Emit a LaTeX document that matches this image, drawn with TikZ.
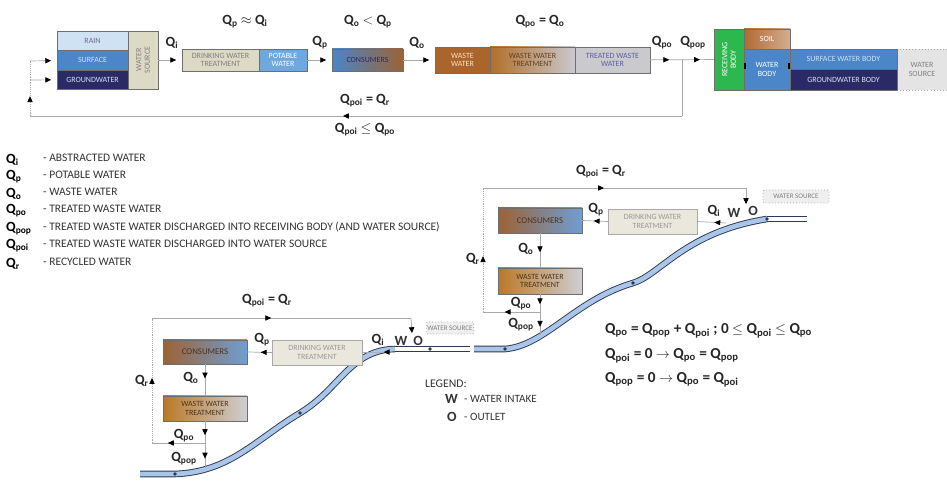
\documentclass[tikz,border=0pt]{standalone}
\usepackage{amsmath}
\usepackage{fontspec}
\setmainfont{Carlito}
\usepackage{tikz}
\usetikzlibrary{arrows.meta, positioning, decorations.markings, calc}

\definecolor{rainblue}{HTML}{CFE2F3}
\definecolor{surfblue}{HTML}{4A86C8}
\definecolor{navyblue}{HTML}{2B2A66}
\definecolor{sandgray}{HTML}{DCD9C4}
\definecolor{potblue}{HTML}{6FA8DC}
\definecolor{consbrown}{HTML}{9C6235}
\definecolor{wwbrown}{HTML}{A9652C}
\definecolor{wwtgold}{HTML}{E2A51C}
\definecolor{twwgray}{HTML}{C9C9CE}
\definecolor{recgreen}{HTML}{2DB84F}
\definecolor{soilbrown}{HTML}{B06A34}
\definecolor{srcgray}{HTML}{E4E4E4}
\definecolor{linegray}{HTML}{A8A8A8}
\definecolor{boxgray}{HTML}{6E6E6E}
\definecolor{rivblue}{HTML}{A9C6E8}
\definecolor{rivedge}{HTML}{2E3A55}

\newcommand{\Qs}[1]{Q$_{\text{#1}}$}

\begin{document}
\begin{tikzpicture}[
    x=0.03cm, y=-0.03cm,
    dims/.style 2 args={minimum width=#1*0.03cm, minimum height=#2*0.03cm},
    box/.style={rectangle, draw=boxgray, line width=0.6pt, inner sep=1pt,
                outer sep=0pt, align=center, font=\fontsize{6.8}{7.3}\selectfont},
    frame/.style={draw=boxgray, line width=0.8pt},
    line/.style={draw=linegray, line width=0.6pt},
    flow/.style={line, -{Triangle[length=5pt,width=4.5pt,color=black]}, shorten >=5pt},
    midarrow/.style={line, postaction={decorate}, decoration={markings,
                mark=at position #1 with {\arrow[black]{Triangle[length=5pt,width=4.5pt]}}}},
    twoarrows/.style 2 args={line, postaction={decorate}, decoration={markings,
                mark=at position #1 with {\arrow[black]{Triangle[length=5pt,width=4.5pt]}},
                mark=at position #2 with {\arrow[black]{Triangle[length=5pt,width=4.5pt]}}}},
    qlab/.style={font=\fontsize{12}{13}\selectfont\bfseries, inner sep=1pt, text=black!85},
    leglab/.style={font=\fontsize{12}{13}\selectfont\bfseries, inner sep=0pt, anchor=west},
    legtext/.style={font=\fontsize{9.8}{10}\selectfont, inner sep=0pt, anchor=west, text=black!80},
    eqn/.style={font=\fontsize{13}{14}\selectfont\bfseries, inner sep=0pt, anchor=west, text=black!85},
    srclab/.style={box, draw=boxgray!70, dotted, rounded corners=1pt, fill=srcgray!60,
                text=gray, font=\fontsize{6}{7}\selectfont},
    wo/.style={font=\fontsize{12}{13}\selectfont\bfseries, inner sep=0pt, text=black!80},
    river/.style={draw=rivedge, line width=0.8pt, double=rivblue, double distance=4pt},
    riverend/.style={river, double=white},
]
    \useasboundingbox (0,0) rectangle (947,486);

    % ---------- top scheme ----------
    \node[box, dims={71}{19}, fill=rainblue, text=navyblue!70] (rain) at (92.5,40.5) {RAIN};
    \node[box, dims={71}{20}, fill=surfblue, text=rainblue] (surface) at (92.5,60) {SURFACE};
    \node[box, dims={71}{19}, fill=navyblue, text=rainblue] (ground) at (92.5,79.5) {GROUNDWATER};
    \node[box, dims={58}{30}, fill=sandgray, rotate=90, text=gray] (source) at (143,60) {WATER\\SOURCE};
    \draw[frame] (57,31) rectangle (158,89);

    \node[box, dims={77}{22}, fill=sandgray, text=gray] (dwt) at (220.5,60) {DRINKING WATER\\TREATMENT};
    \node[box, dims={48}{22}, fill=potblue, text=white] (potable) at (283,60) {POTABLE\\WATER};
    \node[box, dims={71}{22}, left color=surfblue, right color=consbrown, text=navyblue] (consumers) at (367.5,60) {CONSUMERS};

    \node[box, dims={55}{26}, fill=wwbrown, text=orange!25] (ww) at (462.5,60) {WASTE\\WATER};
    \node[box, dims={85}{26}, left color=wwbrown!85!wwtgold, middle color=wwtgold, right color=twwgray,
          text=brown!50!black] (wwt) at (532.5,60) {WASTE WATER\\TREATMENT};
    \node[box, dims={75}{26}, fill=twwgray, text=blue!25!gray] (tww) at (612.5,60) {TREATED WASTE\\WATER};
    \draw[densely dashed, draw=boxgray] (ww.north east) -- (ww.south east);
    \draw[densely dashed, draw=boxgray] (tww.north west) -- (tww.south west);

    \node[box, dims={61}{30}, rotate=90, fill=recgreen, text=white] (receiving) at (729,59.5) {RECEIVING\\BODY};
    \node[box, dims={46}{20}, left color=soilbrown, right color=soilbrown!55!white, text=white] (soil) at (767,39) {SOIL};
    \node[box, dims={46}{41}, fill=surfblue, text=white] (wbody) at (767,69.5) {WATER\\BODY};
    \node[box, dims={107}{20}, fill=surfblue, text=rainblue] (swb) at (843.5,59) {SURFACE WATER BODY};
    \node[box, dims={107}{21}, fill=navyblue, text=rainblue] (gwb) at (843.5,79.5) {GROUNDWATER BODY};
    \node[box, dims={50}{41}, fill=srcgray, draw=boxgray!60, dotted, text=gray] (source2) at (922,69.5) {WATER\\SOURCE};
    \draw[frame] (714,29) -- (790,29) -- (790,49) -- (897,49) -- (897,90) -- (714,90) -- cycle;
    \fill[black] ($(wbody.west)+(0,-6)$) rectangle ++(2,6);
    \fill[black] ($(wbody.east)+(-2,-6)$) rectangle ++(2,6);

    \draw[flow] (source) -- (dwt);
    \draw[flow] (potable) -- (consumers);
    \draw[flow] (consumers) -- (ww);
    \draw[twoarrows={0.3}{0.78}] (tww) -- (receiving);

    \node[qlab] at (172,43) {\Qs{i}};
    \node[qlab] at (320,43) {\Qs{p}};
    \node[qlab] at (417,43) {\Qs{o}};
    \node[qlab] at (662,43) {\Qs{po}};
    \node[qlab] at (693,43) {\Qs{pop}};
    \node[qlab] (relpi) at (245,22) {\Qs{p} $\approx$ Q$_{\text{i}}$};
    \node[qlab] (relop) at (368,22) {\Qs{o} $<$ Q$_{\text{p}}$};
    \node[qlab] (relpo) at (540,22) {\Qs{po} = Q$_{\text{o}}$};

    % recycling loop
    \coordinate (split) at (682,60);
    \coordinate (rc1) at (682,116);
    \coordinate (rc2) at (30,116);
    \coordinate (rc3) at (30,80);
    \coordinate (rc4) at (30,61);
    \draw[line] (split) -- (rc1);
    \draw[midarrow=0.52] (rc1) -- (rc2);
    \draw[midarrow=0.55, densely dotted] (rc2) -- (rc3);
    \draw[line, densely dotted] (rc3) -- (rc4);
    \draw[flow] (rc4) -- (surface);
    \draw[flow] (rc3) -- (ground);
    \node[qlab] at (365,101) {\Qs{poi} = Q$_{\text{r}}$};
    \node[qlab] at (365,130) {\Qs{poi} $\leq$ Q$_{\text{po}}$};

    % ---------- legend ----------
    \node[leglab] (lq1) at (6,160) {\Qs{i}};
    \node[leglab] (lq2) at (6,177) {\Qs{p}};
    \node[leglab] (lq3) at (6,194) {\Qs{o}};
    \node[leglab] (lq4) at (6,211) {\Qs{po}};
    \node[leglab] (lq5) at (6,229) {\Qs{pop}};
    \node[leglab] (lq6) at (6,246) {\Qs{poi}};
    \node[leglab] (lq7) at (6,264) {\Qs{r}};
    \node[legtext] (lt1) at (43,158) {- ABSTRACTED WATER};
    \node[legtext] (lt2) at (43,175) {- POTABLE WATER};
    \node[legtext] (lt3) at (43,192) {- WASTE WATER};
    \node[legtext] (lt4) at (43,209) {- TREATED WASTE WATER};
    \node[legtext] (lt5) at (43,227) {- TREATED WASTE WATER DISCHARGED INTO RECEIVING BODY (AND WATER SOURCE)};
    \node[legtext] (lt6) at (43,244) {- TREATED WASTE WATER DISCHARGED INTO WATER SOURCE};
    \node[legtext] (lt7) at (43,262) {- RECYCLED WATER};

    % ---------- river ----------
    \draw[river] (140,474) -- (175,474) .. controls (230,472) and (255,440) .. (300,413)
        .. controls (340,389) and (350,350) .. (395,349);
    \draw[riverend] (395,349) -- (470,349);
    \draw[river] (474,349) -- (505,349) .. controls (545,346) and (575,300) .. (633,283)
        .. controls (660,275) and (685,232) .. (767,219);
    \draw[riverend] (767,219) -- (807,219);
    \foreach \p in {(175,474), (300,413), (430,349), (505,349), (633,283), (767,219)}
        \fill[rivedge] \p circle (1.8);

    % ---------- lower settlement ----------
    \node[box, dims={84}{24}, left color=consbrown, right color=surfblue!80!white, text=consbrown!50!black,
          font=\fontsize{7.5}{8}\selectfont] (cons1) at (205,352) {CONSUMERS};
    \node[box, dims={90}{25}, fill=sandgray!60, draw=boxgray!60, text=gray!80] (dwt1) at (317,352.5) {DRINKING WATER\\TREATMENT};
    \node[box, dims={84}{25}, left color=wwbrown!70!wwtgold, right color=twwgray!90, text=brown!40!black] (wwt1) at (205,408.5) {WASTE WATER\\TREATMENT};
    \node[srclab, dims={44}{12}] (wsrc1) at (450,328) {WATER SOURCE};
    \node[wo] (w1) at (401,341) {W};
    \node[wo] (o1) at (418,341) {O};

    \coordinate (in1) at (393,352);
    \coordinate (rv1) at (205,468);
    \coordinate (b1) at (205,443);
    \coordinate (c1) at (152,443);
    \coordinate (c2) at (152,318);
    \coordinate (c3) at (411,318);
    \draw[midarrow=0.3] (in1) -- (dwt1.east);
    \draw[midarrow=0.45] (dwt1.west) -- (cons1.east);
    \draw[midarrow=0.45] (cons1.south) -- (wwt1.north);
    \draw[twoarrows={0.3}{0.8}] (wwt1.south) -- (rv1);
    \draw[midarrow=0.7] (b1) -- (c1);
    \draw[midarrow=0.52, densely dotted] (c1) -- (c2);
    \draw[midarrow=0.46] (c2) -- (c3);
    \draw[line, -{Triangle[length=5pt,width=4.5pt,color=black]}] (c3) -- ($(o1.north)+(-6,-3)$);

    \node[qlab] at (262,340) {\Qs{p}};
    \node[qlab] at (378,340) {\Qs{i}};
    \node[qlab, anchor=east] at (200,378) {\Qs{o}};
    \node[qlab] at (184,436) {\Qs{po}};
    \node[qlab] at (184,459) {\Qs{pop}};
    \node[qlab, anchor=east] at (150,381) {\Qs{r}};
    \node[qlab] at (267,301) {\Qs{poi} = Q$_{\text{r}}$};

    % ---------- upper settlement ----------
    \node[box, dims={84}{25}, left color=consbrown, right color=surfblue!80!white, text=consbrown!50!black,
          font=\fontsize{7.5}{8}\selectfont] (cons2) at (540,220.5) {CONSUMERS};
    \node[box, dims={89}{25}, fill=sandgray!60, draw=boxgray!60, text=gray!80] (dwt2) at (652.5,221.5) {DRINKING WATER\\TREATMENT};
    \node[box, dims={84}{26}, left color=wwbrown!70!wwtgold, right color=twwgray!90, text=brown!40!black] (wwt2) at (540,281) {WASTE WATER\\TREATMENT};
    \node[srclab, dims={66}{13}] (wsrc2) at (796,196.5) {WATER SOURCE};
    \node[wo] (w2) at (734,213) {W};
    \node[wo] (o2) at (753,211) {O};

    \coordinate (in2) at (726,223);
    \coordinate (rv2) at (540,335);
    \coordinate (b2) at (540,312);
    \coordinate (c4) at (483,312);
    \coordinate (c5) at (483,188);
    \coordinate (c6) at (746,188);
    \draw[midarrow=0.4] (in2) -- (dwt2.east);
    \draw[midarrow=0.55] (dwt2.west) -- (cons2.east);
    \draw[midarrow=0.55] (cons2.south) -- (wwt2.north);
    \draw[twoarrows={0.25}{0.8}] (wwt2.south) -- (rv2);
    \draw[midarrow=0.62] (b2) -- (c4);
    \draw[midarrow=0.45, densely dotted] (c4) -- (c5);
    \draw[midarrow=0.46] (c5) -- (c6);
    \draw[line, -{Triangle[length=5pt,width=4.5pt,color=black]}] (c6) -- ($(o2.north)+(-7,-2)$);

    \node[qlab] at (596,210) {\Qs{p}};
    \node[qlab] at (714,211) {\Qs{i}};
    \node[qlab, anchor=east] at (535,249) {\Qs{o}};
    \node[qlab] at (521,304) {\Qs{po}};
    \node[qlab] at (521,325) {\Qs{pop}};
    \node[qlab, anchor=east] at (481,259) {\Qs{r}};
    \node[qlab] at (601,172) {\Qs{poi} = Q$_{\text{r}}$};

    % ---------- key and balance ----------
    \node[legtext, font=\fontsize{10}{11}\selectfont] (legend) at (425,384) {LEGEND:};
    \node[wo, anchor=west] (kw) at (445,399) {W};
    \node[legtext, font=\fontsize{9.5}{10}\selectfont] (kwt) at (464,399) {- WATER INTAKE};
    \node[wo, anchor=west] (ko) at (447,417) {O};
    \node[legtext, font=\fontsize{9.5}{10}\selectfont] (kot) at (464,417) {- OUTLET};

    \node[eqn] (eq1) at (605,331) {\Qs{po} = Q$_{\text{pop}}$ + Q$_{\text{poi}}$ ; 0 $\leq$ Q$_{\text{poi}}$ $\leq$ Q$_{\text{po}}$};
    \node[eqn] (eq2) at (605,356) {\Qs{poi} = 0 $\rightarrow$ Q$_{\text{po}}$ = Q$_{\text{pop}}$};
    \node[eqn] (eq3) at (605,380) {\Qs{pop} = 0 $\rightarrow$ Q$_{\text{po}}$ = Q$_{\text{poi}}$};
\end{tikzpicture}
\end{document}
